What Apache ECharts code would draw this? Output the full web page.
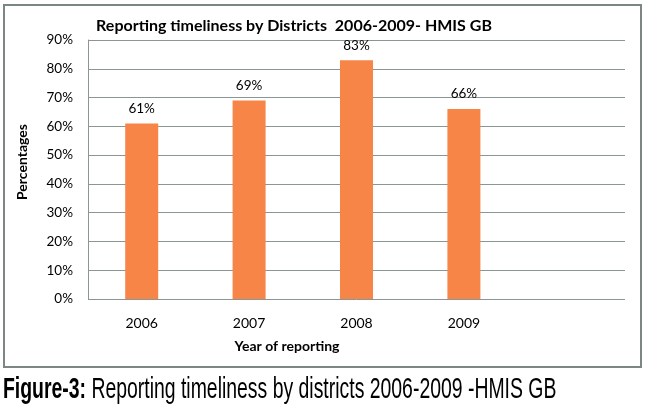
<!DOCTYPE html>
<html>
<head>
<meta charset="utf-8">
<script src="https://cdn.jsdelivr.net/npm/echarts@6/dist/echarts.min.js"></script>
<style>
  html, body { margin: 0; padding: 0; background: #fff; }
  #chart { width: 650px; height: 411px; }
</style>
</head>
<body>
<div id="chart"></div>
<script>
let years = ['2006', '2007', '2008', '2009'];
let timeliness = [61, 69, 83, 66];
let yTicks = { min: 0, max: 90, step: 10 };

let chartTitle = 'Reporting timeliness by Districts  2006-2009- HMIS GB';
let figCaption = 'Reporting timeliness by districts 2006-2009 -HMIS GB';

let gray = '#8a9595';
let font = 'Lato, "Open Sans", sans-serif';

let chart = echarts.init(document.getElementById('chart'));

// excel left an empty fifth slot on the category axis
let cats = years.concat(['']);

let option = {
  animation: false,
  title: {
    text: chartTitle,
    left: 289,
    top: 13,
    textAlign: 'center',
    textStyle: { fontFamily: font, fontWeight: 'bold', fontSize: 16, color: '#000' }
  },
  grid: { left: 88, right: 25, top: 40, bottom: 112 },
  xAxis: {
    type: 'category',
    data: cats,
    axisLine: { show: false },
    axisTick: { show: false },
    axisLabel: { fontFamily: font, fontSize: 14, color: '#000', margin: 17 }
  },
  yAxis: {
    type: 'value',
    min: yTicks.min,
    max: yTicks.max,
    interval: yTicks.step,
    axisLine: { show: true, lineStyle: { color: gray, width: 1 } },
    axisTick: { show: false },
    axisLabel: { formatter: '{value}%', fontFamily: font, fontSize: 13.5, color: '#000', margin: 15 },
    splitLine: { lineStyle: { color: gray, width: 1 } }
  },
  series: [{
    type: 'bar',
    data: timeliness,
    barWidth: 33,
    itemStyle: { color: '#f68547' },
    label: {
      show: true,
      position: 'top',
      distance: 8,
      formatter: '{c}%',
      fontFamily: font,
      fontSize: 13.5,
      color: '#000'
    }
  }],
  graphic: [
    {
      type: 'rect',
      shape: { x: 4, y: 5, width: 637, height: 362 },
      style: { fill: 'none', stroke: '#7b8685', lineWidth: 2 },
      z: -1
    },
    {
      type: 'text',
      x: 22,
      y: 162,
      rotation: Math.PI / 2,
      style: {
        text: 'Percentages',
        fontFamily: font, fontWeight: 'bold', fontSize: 14, fill: '#000',
        align: 'center', verticalAlign: 'middle'
      }
    },
    {
      type: 'text',
      x: 287,
      y: 346,
      style: {
        text: 'Year of reporting',
        fontFamily: font, fontWeight: 'bold', fontSize: 14, fill: '#000',
        align: 'center', verticalAlign: 'middle'
      }
    },
    {
      type: 'group',
      x: 3,
      y: 390,
      scaleX: 0.647,
      children: [{
        type: 'text',
        style: {
          text: '{b|Figure-3:} ' + figCaption,
          fontFamily: '"Liberation Sans Narrow", "Liberation Sans", sans-serif',
          fontSize: 30,
          fill: '#000',
          align: 'left',
          verticalAlign: 'middle',
          rich: {
            b: {
              fontFamily: '"Liberation Sans Narrow", "Liberation Sans", sans-serif',
              fontWeight: 'bold',
              fontSize: 30,
              fill: '#000'
            }
          }
        }
      }]
    }
  ]
};

chart.setOption(option);
</script>
</body>
</html>
